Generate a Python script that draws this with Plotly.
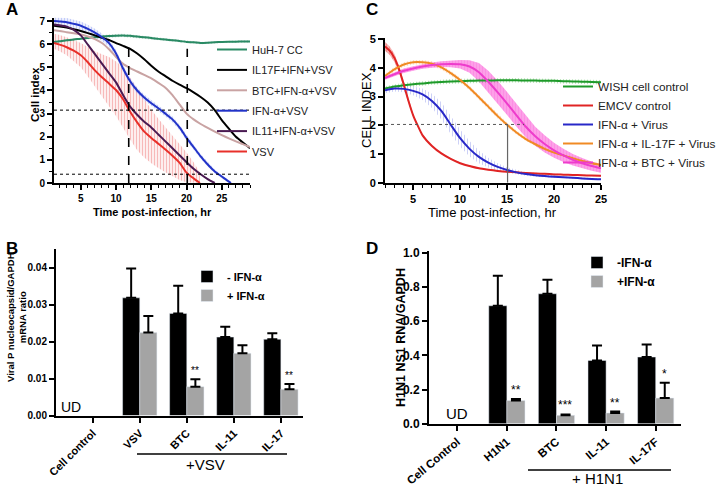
import plotly.graph_objects as go

# ---------------- Panel A data (HuH-7, VSV) ----------------
A_x = [1.2, 2, 3, 4, 5, 6, 7, 8, 9, 10, 11, 12, 13, 14, 15, 16, 17, 18, 19, 20,
       21, 22, 23, 24, 25, 26, 27, 28, 29]
A_huh7 = [6.10, 6.13, 6.17, 6.20, 6.24, 6.27, 6.30, 6.33, 6.35, 6.37, 6.38, 6.36, 6.33, 6.30,
          6.27, 6.23, 6.20, 6.17, 6.14, 6.10, 6.08, 6.05, 6.06, 6.08, 6.10, 6.11, 6.11, 6.12, 6.12]
A_huh7_err = [0.05, 0.05, 0.05, 0.05, 0.05, 0.05, 0.06, 0.06, 0.07, 0.07, 0.07, 0.06, 0.06, 0.05,
              0.05, 0.05, 0.05, 0.05, 0.05, 0.05, 0.05, 0.05, 0.05, 0.05, 0.05, 0.05, 0.05, 0.05, 0.05]
A_il17f = [6.80, 6.77, 6.72, 6.65, 6.57, 6.48, 6.38, 6.28, 6.18, 6.05, 5.93, 5.80, 5.60, 5.35,
           5.07, 4.82, 4.62, 4.42, 4.25, 4.10, 3.92, 3.72, 3.48, 3.15, 2.72, 2.35, 2.00, 1.75, 1.50]
A_btc = [6.60, 6.57, 6.52, 6.47, 6.42, 6.33, 6.22, 6.05, 5.78, 5.45, 5.15, 4.97, 4.82, 4.67,
         4.52, 4.33, 4.12, 3.80, 3.40, 3.00, 2.75, 2.55, 2.38, 2.22, 2.07, 1.93, 1.80, 1.68, 1.55]
A_ifn_x = [1.2, 2, 3, 4, 5, 6, 7, 8, 9, 10, 11, 12, 13, 14, 15, 16, 17, 18, 19, 20,
           21, 22, 23, 24, 25, 26, 26.3]
A_ifn = [7.00, 6.98, 6.95, 6.88, 6.80, 6.66, 6.50, 6.30, 6.05, 5.60, 4.95, 4.40, 4.00, 3.70,
         3.45, 3.23, 3.00, 2.75, 2.40, 1.95, 1.55, 1.15, 0.80, 0.50, 0.28, 0.06, 0.0]
A_ifn_err = [0.15, 0.17, 0.18, 0.18, 0.18, 0.18, 0.17, 0.16, 0.15, 0.15, 0.14, 0.14, 0.13, 0.13,
             0.12, 0.12, 0.12, 0.12, 0.12, 0.12, 0.11, 0.10, 0.09, 0.08, 0.07, 0.05, 0.03]
A_il11_x = [1.2, 2, 3, 4, 5, 6, 7, 8, 9, 10, 11, 12, 13, 14, 15, 16, 17, 18, 19, 20,
            21, 22, 23, 24]
A_il11 = [6.85, 6.82, 6.76, 6.62, 6.38, 5.98, 5.57, 5.16, 4.75, 4.35, 3.80, 3.30, 2.95, 2.65,
          2.40, 2.10, 1.80, 1.50, 1.20, 0.90, 0.62, 0.38, 0.17, 0.0]
A_vsv_x = [1.2, 2, 3, 4, 5, 6, 7, 8, 9, 10, 11, 12, 13, 14, 15, 16, 17, 18, 19, 20, 21, 21.9]
A_vsv = [6.05, 5.98, 5.87, 5.72, 5.52, 5.22, 4.87, 4.57, 4.30, 4.02, 3.62, 3.08, 2.62, 2.22,
         1.95, 1.70, 1.45, 1.18, 0.88, 0.45, 0.20, 0.0]
A_vsv_hi = [6.45, 6.40, 6.30, 6.18, 6.05, 5.88, 5.70, 5.57, 5.45, 5.25, 5.00, 4.55, 4.08, 3.62,
            3.18, 2.78, 2.42, 2.08, 1.72, 1.32, 0.90, 0.45]
A_vsv_lo = [5.80, 5.70, 5.52, 5.28, 5.00, 4.60, 4.20, 3.75, 3.32, 2.90, 2.42, 1.88, 1.42, 1.10,
            0.85, 0.65, 0.46, 0.28, 0.13, 0.03, 0.0, 0.0]
A_names = ["HuH-7 CC", "IL17F+IFN+VSV", "BTC+IFN-α+VSV", "IFN-α+VSV", "IL11+IFN-α+VSV", "VSV"]
A_vline_x = [11.8, 20.1]
A_vline_top = [5.82, 5.80]
A_hline_y = [3.15, 0.38]

# ---------------- Panel C data (WISH, EMCV) ----------------
C_x = [2, 3, 4, 5, 6, 7, 8, 9, 10, 11, 12, 13, 14, 15, 16, 17, 18, 19, 20, 21, 22, 23, 24, 25]
C_wish = [3.28, 3.35, 3.40, 3.43, 3.46, 3.49, 3.51, 3.53, 3.54, 3.55, 3.56, 3.56, 3.57, 3.57,
          3.57, 3.56, 3.56, 3.55, 3.55, 3.54, 3.53, 3.52, 3.51, 3.50]
C_wish_err = [0.08] * 24
C_emcv_x = [2, 2.5, 3, 3.5, 4, 4.5, 5, 5.5, 6, 7, 8, 9, 10, 11, 12, 13, 14, 15, 16, 17, 18,
            19, 20, 21, 22, 23, 24, 25]
C_emcv = [4.75, 4.60, 4.35, 3.95, 3.42, 2.85, 2.35, 1.98, 1.65, 1.28, 1.02, 0.83, 0.68, 0.58,
          0.50, 0.45, 0.41, 0.38, 0.36, 0.34, 0.32, 0.31, 0.29, 0.28, 0.27, 0.26, 0.25, 0.24]
C_emcv_err = [0.15, 0.15, 0.14, 0.12, 0.10, 0.06, 0.04, 0.03, 0.02, 0.02, 0.02, 0.02, 0.02, 0.02,
              0.02, 0.02, 0.02, 0.02, 0.02, 0.02, 0.02, 0.02, 0.02, 0.02, 0.02, 0.02, 0.02, 0.02]
C_ifn = [3.22, 3.28, 3.27, 3.20, 3.08, 2.85, 2.50, 2.02, 1.55, 1.18, 0.90, 0.70, 0.55, 0.44,
         0.36, 0.30, 0.26, 0.23, 0.21, 0.19, 0.17, 0.15, 0.13, 0.12]
C_ifn_err = [0.10, 0.10, 0.12, 0.15, 0.20, 0.25, 0.30, 0.32, 0.30, 0.27, 0.22, 0.17, 0.13, 0.10,
             0.08, 0.06, 0.05, 0.04, 0.04, 0.03, 0.03, 0.03, 0.03, 0.03]
C_il17f = [3.72, 3.95, 4.12, 4.20, 4.20, 4.15, 4.02, 3.82, 3.58, 3.30, 2.98, 2.65, 2.32, 2.02,
           1.75, 1.52, 1.34, 1.18, 1.05, 0.95, 0.85, 0.76, 0.68, 0.62]
C_il17f_err = [0.08, 0.08, 0.08, 0.08, 0.08, 0.08, 0.08, 0.08, 0.08, 0.08, 0.08, 0.08, 0.08, 0.08,
               0.07, 0.07, 0.06, 0.06, 0.05, 0.05, 0.05, 0.05, 0.05, 0.05]
C_btc = [3.65, 3.78, 3.90, 3.98, 4.05, 4.10, 4.13, 4.14, 4.13, 4.05, 3.85, 3.52, 3.15, 2.76,
         2.35, 1.95, 1.62, 1.35, 1.13, 0.95, 0.80, 0.68, 0.58, 0.50]
C_btc_err = [0.06, 0.07, 0.08, 0.08, 0.08, 0.09, 0.10, 0.12, 0.15, 0.22, 0.32, 0.38, 0.40, 0.40,
             0.40, 0.37, 0.33, 0.30, 0.26, 0.23, 0.20, 0.18, 0.16, 0.15]
C_names = ["WISH cell control", "EMCV control", "IFN-α + Virus", "IFN-α + IL-17F + Virus",
           "IFN-α + BTC + Virus"]
C_ref_y = 2.03
C_ref_x = [2, 16.8]
C_ref_vx = 15.05

# ---------------- Panel B data (VSV RNA) ----------------
B_cats = ["Cell control", "VSV", "BTC", "IL-11", "IL-17"]
B_minus = [None, 0.0318, 0.0276, 0.0212, 0.0206]
B_minus_err = [None, 0.0079, 0.0075, 0.0028, 0.0016]
B_plus = [None, 0.0224, 0.0078, 0.0168, 0.0071]
B_plus_err = [None, 0.0045, 0.0020, 0.0022, 0.0014]
B_stars = ["", "", "**", "", "**"]

# ---------------- Panel D data (H1N1 RNA) ----------------
D_cats = ["Cell Control", "H1N1", "BTC", "IL-11", "IL-17F"]
D_minus = [None, 0.69, 0.76, 0.37, 0.39]
D_minus_err = [None, 0.175, 0.082, 0.088, 0.073]
D_plus = [None, 0.136, 0.049, 0.063, 0.150]
D_plus_err = [None, 0.008, 0.005, 0.008, 0.090]
D_stars = ["", "**", "***", "**", "*"]

FONT = "Arial, Liberation Sans, sans-serif"
fig = go.Figure()


def band(x, lo, hi, color, xa, ya, solidity=0.45, size=3):
    fig.add_trace(go.Scatter(
        x=list(x) + list(x)[::-1], y=list(hi) + list(lo)[::-1], xaxis=xa, yaxis=ya,
        mode="lines", line=dict(width=0), fill="toself", fillcolor="rgba(255,255,255,0)",
        fillpattern=dict(shape="|", fgcolor=color, bgcolor="rgba(255,255,255,0)",
                         size=size, solidity=solidity),
        hoverinfo="skip", showlegend=False))


def line(x, y, color, name, xa, ya, legend, width=2):
    fig.add_trace(go.Scatter(x=x, y=y, xaxis=xa, yaxis=ya, mode="lines", name=name,
                             legendgroup=name,
                             line=dict(color=color, width=width, shape="spline", smoothing=0.6),
                             legend=legend))


# ---- Panel A traces ----
A_col = ["#2a8a64", "#000000", "#c9a3a3", "#2233c8", "#4a1a52", "#e8302a"]
band(A_vsv_x, A_vsv_lo, A_vsv_hi, "rgba(238,100,100,0.9)", "x", "y", 0.5)
band(A_ifn_x, [m - e for m, e in zip(A_ifn, A_ifn_err)],
     [m + e for m, e in zip(A_ifn, A_ifn_err)], "rgba(120,140,240,0.9)", "x", "y", 0.55)
band(A_x, [m - e for m, e in zip(A_huh7, A_huh7_err)],
     [m + e for m, e in zip(A_huh7, A_huh7_err)], "rgba(60,150,110,0.8)", "x", "y", 0.5)
line(A_x, A_huh7, A_col[0], A_names[0], "x", "y", "legend")
line(A_x, A_il17f, A_col[1], A_names[1], "x", "y", "legend")
line(A_x, A_btc, A_col[2], A_names[2], "x", "y", "legend")
line(A_ifn_x, A_ifn, A_col[3], A_names[3], "x", "y", "legend")
line(A_il11_x, A_il11, A_col[4], A_names[4], "x", "y", "legend")
line(A_vsv_x, A_vsv, A_col[5], A_names[5], "x", "y", "legend")

# ---- Panel C traces ----
C_col = ["#1e9a2a", "#e02424", "#2828c8", "#f08a24", "#ee3ccc"]
band(C_x, [m - e for m, e in zip(C_wish, C_wish_err)],
     [m + e for m, e in zip(C_wish, C_wish_err)], "rgba(80,190,80,0.8)", "x2", "y2", 0.4)
band(C_x, [m - e for m, e in zip(C_ifn, C_ifn_err)],
     [m + e for m, e in zip(C_ifn, C_ifn_err)], "rgba(130,140,235,0.8)", "x2", "y2", 0.35)
band(C_x, [m - e for m, e in zip(C_il17f, C_il17f_err)],
     [m + e for m, e in zip(C_il17f, C_il17f_err)], "rgba(250,170,90,0.8)", "x2", "y2", 0.5)
band(C_x, [m - e for m, e in zip(C_btc, C_btc_err)],
     [m + e for m, e in zip(C_btc, C_btc_err)], "rgba(250,30,200,1)", "x2", "y2", 0.9)
band(C_emcv_x, [m - e for m, e in zip(C_emcv, C_emcv_err)],
     [m + e for m, e in zip(C_emcv, C_emcv_err)], "rgba(230,30,30,1)", "x2", "y2", 0.8)
line(C_x, C_wish, C_col[0], C_names[0], "x2", "y2", "legend2")
line(C_emcv_x, C_emcv, C_col[1], C_names[1], "x2", "y2", "legend2")
line(C_x, C_ifn, C_col[2], C_names[2], "x2", "y2", "legend2")
line(C_x, C_il17f, C_col[3], C_names[3], "x2", "y2", "legend2")
line(C_x, C_btc, C_col[4], C_names[4], "x2", "y2", "legend2")

# ---- Panel B / D bars ----
ERR = dict(type="data", symmetric=False, color="black", thickness=2, width=5)
fig.add_trace(go.Bar(x=B_cats, y=B_minus, name="- IFN-α", marker_color="black", xaxis="x3",
                     yaxis="y3", legend="legend3",
                     error_y=dict(ERR, array=B_minus_err, arrayminus=[0] * 5)))
fig.add_trace(go.Bar(x=B_cats, y=B_plus, name="+ IFN-α", marker_color="#a4a4a4", xaxis="x3",
                     yaxis="y3", legend="legend3",
                     error_y=dict(ERR, array=B_plus_err, arrayminus=[0] * 5)))
fig.add_trace(go.Bar(x=D_cats, y=D_minus, name="-IFN-α", marker_color="black", xaxis="x4",
                     yaxis="y4", legend="legend4",
                     error_y=dict(ERR, array=D_minus_err, arrayminus=[0] * 5)))
fig.add_trace(go.Bar(x=D_cats, y=D_plus, name="+IFN-α", marker_color="#a4a4a4", xaxis="x4",
                     yaxis="y4", legend="legend4",
                     error_y=dict(ERR, array=D_plus_err, arrayminus=[0] * 5)))


def tf(size):
    return dict(family=FONT, size=size, color="black", weight="bold")


def ax(**kw):
    base = dict(showline=True, linewidth=2, linecolor="black", ticks="outside", ticklen=5,
                tickwidth=1.5, tickcolor="black", showgrid=False, zeroline=False,
                automargin=False, tickfont=tf(10))
    base.update(kw)
    return base


W, H = 720, 489
px = lambda v: v / W
py = lambda v: 1 - v / H
MINOR = dict(ticklen=3, tickwidth=1, tickcolor="black", ticks="outside")

fig.update_layout(
    width=W, height=H, margin=dict(l=0, r=0, t=0, b=0, autoexpand=False),
    paper_bgcolor="white", plot_bgcolor="white",
    font=dict(family=FONT, color="black"),
    barmode="group", bargap=0.27, bargroupgap=0,
    xaxis=ax(domain=[px(54), px(250)], range=[1.2, 29], anchor="y", dtick=5, tick0=0,
             tickfont=tf(10), minor=dict(MINOR, dtick=1)),
    yaxis=ax(domain=[py(183), py(17.6)], range=[0, 7.15], anchor="x", dtick=1,
             tickfont=tf(10), minor=dict(MINOR, dtick=0.5)),
    xaxis2=ax(domain=[px(385), px(601)], range=[2, 25], anchor="y2", dtick=5, tick0=0,
              tickfont=tf(11), minor=dict(MINOR, dtick=1)),
    yaxis2=ax(domain=[py(182.7), py(37.8)], range=[0, 5.05], anchor="x2", dtick=1,
              tickfont=tf(11)),
    xaxis3=ax(domain=[px(56), px(303)], range=[-0.78, 4.47], anchor="y3", tickangle=-45,
              tickfont=tf(11)),
    yaxis3=ax(domain=[py(415.5), py(249)], range=[0, 0.045], anchor="x3", dtick=0.01,
              tickformat=".2f", tickfont=tf(10)),
    xaxis4=ax(domain=[px(429), px(681)], range=[-0.57, 4.51], anchor="y4", tickangle=-40,
              tickfont=tf(11.5)),
    yaxis4=ax(domain=[py(423.7), py(251)], range=[0, 1.01], anchor="x4", dtick=0.2,
              tickformat=".1f", tickfont=tf(12)),
    legend=dict(x=px(212), y=py(35), xanchor="left", yanchor="top", bgcolor="rgba(0,0,0,0)",
                font=dict(family=FONT, size=11, color="#222"), tracegroupgap=1.4,
                traceorder="grouped"),
    legend2=dict(x=px(558), y=py(72), xanchor="left", yanchor="top", bgcolor="rgba(0,0,0,0)",
                 font=dict(family=FONT, size=11.8, color="#222"), tracegroupgap=0,
                 traceorder="grouped"),
    legend3=dict(x=px(187), y=py(262), xanchor="left", yanchor="top", bgcolor="rgba(0,0,0,0)",
                 font=dict(family=FONT, size=11, color="black", weight="bold")),
    legend4=dict(x=px(577), y=py(248), xanchor="left", yanchor="top", bgcolor="rgba(0,0,0,0)",
                 font=dict(family=FONT, size=12, color="black", weight="bold"),
                 tracegroupgap=2),
)

shapes = []
for vx, top in zip(A_vline_x, A_vline_top):
    shapes.append(dict(type="line", xref="x", yref="y", x0=vx, x1=vx, y0=0, y1=top,
                       line=dict(color="black", width=1.6, dash="dash")))
for hy in A_hline_y:
    shapes.append(dict(type="line", xref="x", yref="y", x0=1.2, x1=29, y0=hy, y1=hy,
                       line=dict(color="black", width=1, dash="dot")))
shapes.append(dict(type="line", xref="x2", yref="y2", x0=C_ref_x[0], x1=C_ref_x[1],
                   y0=C_ref_y, y1=C_ref_y, line=dict(color="#555", width=1, dash="dot")))
shapes.append(dict(type="line", xref="x2", yref="y2", x0=C_ref_vx, x1=C_ref_vx, y0=0,
                   y1=C_ref_y, line=dict(color="#666", width=1.2)))
# group underlines
shapes.append(dict(type="line", xref="paper", yref="paper", x0=px(137), x1=px(287),
                   y0=py(454), y1=py(454), line=dict(color="black", width=1.5)))
shapes.append(dict(type="line", xref="paper", yref="paper", x0=px(528), x1=px(671),
                   y0=py(470), y1=py(470), line=dict(color="black", width=1.5)))
fig.update_layout(shapes=shapes)

ann = []
def text(x, y, t, size, bold=False, angle=0, xanchor="center", yanchor="middle", color="black"):
    ann.append(dict(x=px(x), y=py(y), xref="paper", yref="paper", text=t, showarrow=False,
                    xanchor=xanchor, yanchor=yanchor, textangle=angle,
                    font=dict(family=FONT, size=size, color=color,
                              weight="bold" if bold else "normal")))

text(4, 10, "A", 17, True, xanchor="left")
text(364, 10, "C", 17, True, xanchor="left")
text(4, 249, "B", 17, True, xanchor="left")
text(364, 249, "D", 17, True, xanchor="left")
text(152, 212, "Time post-infection, hr", 11, True)
text(35, 95, "Cell index", 11.5, True, angle=-90)
text(492, 212, "Time post-infection, hr", 13)
text(367, 110, "CELL INDEX", 13, angle=-90)
text(16, 317, "Viral P nucleocapsid/GAPDH<br>mRNA ratio", 9.5, True, angle=-90)
text(401, 338, "H1N1 NS1 RNA/GAPDH", 12.5, True, angle=-90)
text(71, 407, "UD", 14)
text(457, 413, "UD", 15)
text(205, 464, "+VSV", 15)
text(597, 478, "+ H1N1", 15)

for cat, s, v, e in zip(B_cats, B_stars, B_plus, B_plus_err):
    if s:
        ann.append(dict(x=cat, y=v + e, xref="x3", yref="y3", text=s, showarrow=False,
                        xshift=8.5, yshift=1, yanchor="bottom",
                        font=dict(family=FONT, size=10, color="black")))
for cat, s, v, e in zip(D_cats, D_stars, D_plus, D_plus_err):
    if s:
        ann.append(dict(x=cat, y=v + e, xref="x4", yref="y4", text=s, showarrow=False,
                        xshift=9, yshift=0, yanchor="bottom",
                        font=dict(family=FONT, size=12, color="black")))
fig.update_layout(annotations=ann)

fig.write_html("out.html", config={"displayModeBar": False},
               post_script="document.body.style.margin='0';document.body.style.overflow='hidden';")
